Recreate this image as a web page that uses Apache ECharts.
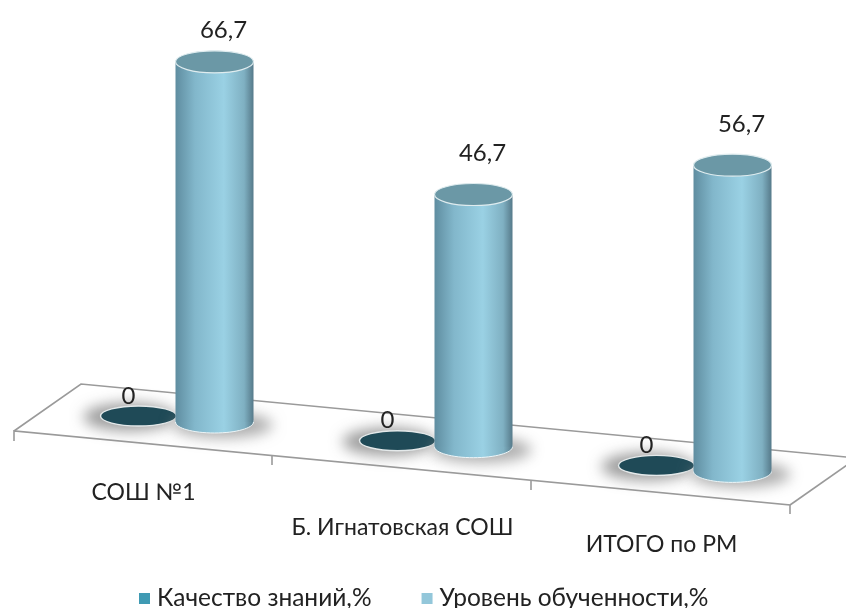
<!DOCTYPE html>
<html><head><meta charset="utf-8">
<style>html,body{margin:0;padding:0;background:#fff}#c{width:846px;height:608px}</style>
<script src="https://cdn.jsdelivr.net/npm/echarts@6/dist/echarts.min.js"></script>
</head><body><div id="c"></div>
<script>
var categories = ['СОШ №1', 'Б. Игнатовская СОШ', 'ИТОГО по РМ'];
var seriesNames = ['Качество знаний,%', 'Уровень обученности,%'];
var quality = [0, 0, 0];
var level = [66.7, 46.7, 56.7];

var FONT = 'Lato, "Open Sans", sans-serif';
var SLOPE = 24.7;               // floor drop per category (perspective)
var LABEL_PAD = [0, 35, 52];    // extra drop of the category labels
var VALUE_RAISE = [32, 41, 41]; // value label distance above the cylinder top
var OFF = 3000;                 // shape is parked off canvas so only its blurred shadow shows
var chart = echarts.init(document.getElementById('c'));

function fmt(v){ return String(v).replace('.', ','); }
function glow(cx, cy, rx, ry, alpha){
  return {type:'ellipse', shape:{cx:cx + OFF, cy:cy, rx:rx, ry:ry},
    style:{fill:'#000', shadowBlur:14, shadowOffsetX:-OFF, shadowColor:'rgba(140,140,140,' + alpha + ')'}};
}
function renderDisc(params, api){
  var i = api.value(0), v = api.value(1);
  var p = api.coord([i, v]);
  var cx = p[0] - 5, cy = p[1] - 6 + i * SLOPE, rx = 38, ry = 10;
  return {type:'group', children:[
    glow(cx - 9, cy + 1, rx + 8, ry + 4, 0.85),
    {type:'ellipse', shape:{cx:cx, cy:cy, rx:rx, ry:ry},
      style:{fill:'#1f4a57', stroke:'#e4e9ea', lineWidth:1.4}},
    {type:'text', style:{x:cx - 10, y:cy - 20, text:fmt(v), fill:'#222', font:'24px ' + FONT,
      align:'center', verticalAlign:'middle'}}
  ]};
}
function renderCylinder(params, api){
  var i = api.value(0), v = api.value(1);
  var base = api.coord([i, 0]), top = api.coord([i, v]);
  var cx = base[0] + 71, by = base[1] + i * SLOPE, ty = top[1] + i * SLOPE, rx = 39, ry = 11;
  var body = {type:'linear', x:0, y:0, x2:1, y2:0, colorStops:[
    {offset:0, color:'#5f8da0'}, {offset:0.25, color:'#82b7cb'}, {offset:0.62, color:'#9ad1e4'},
    {offset:0.88, color:'#7fb0c2'}, {offset:1, color:'#567a8a'}]};
  return {type:'group', children:[
    glow(cx + 8, by + 3, rx + 11, ry + 2, 0.7),
    {type:'ellipse', shape:{cx:cx, cy:by, rx:rx, ry:ry}, style:{fill:body, stroke:'#eef6f8', lineWidth:1}},
    {type:'rect', shape:{x:cx - rx, y:ty, width:rx * 2, height:by - ty}, style:{fill:body}},
    {type:'ellipse', shape:{cx:cx, cy:ty, rx:rx, ry:ry},
      style:{fill:'#6b98a6', stroke:'#dfecef', lineWidth:1.2}},
    {type:'text', style:{x:cx + 9, y:ty - VALUE_RAISE[i], text:fmt(v), fill:'#222', font:'24px ' + FONT,
      align:'center', verticalAlign:'middle'}}
  ]};
}
function line(points){
  return {type:'polyline', shape:{points:points}, style:{stroke:'#9a9a9a', lineWidth:1.6, fill:null}, silent:true};
}
var rich = {};
LABEL_PAD.forEach(function(p, i){
  rich['c' + i] = {fontFamily:FONT, fontSize:23, color:'#222', padding:[p, 0, 0, 0]};
});
chart.setOption({
  animation:false,
  backgroundColor:'#fff',
  grid:{left:14, width:777, top:17, height:405},
  xAxis:{type:'category', data:categories, axisLine:{show:false}, axisTick:{show:false},
    axisLabel:{interval:0, margin:59, hideOverlap:false,
      formatter:function(val, idx){ return '{c' + idx + '|' + val + '}'; }, rich:rich}},
  yAxis:{type:'value', min:0, max:75, show:false},
  legend:{data:seriesNames, left:134, top:581, icon:'rect', itemWidth:11, itemHeight:11, itemGap:50,
    textStyle:{fontFamily:FONT, fontSize:24.5, color:'#222', padding:[0,0,0,2]}},
  graphic:[
    line([[14,431],[81,384],[857,458]]),
    line([[14,441],[14,431],[790,505],[790,514]]),
    line([[790,505],[857,458]]),
    line([[272,456],[272,465]]),
    line([[531,480],[531,490]])
  ],
  series:[
    {name:seriesNames[0], type:'custom', coordinateSystem:'cartesian2d', z:3,
      itemStyle:{color:'#3f9ab3'}, renderItem:renderDisc,
      encode:{x:0, y:1}, data:quality.map(function(v, i){ return [i, v]; })},
    {name:seriesNames[1], type:'custom', coordinateSystem:'cartesian2d', z:4,
      itemStyle:{color:'#93c7da'}, renderItem:renderCylinder,
      encode:{x:0, y:1}, data:level.map(function(v, i){ return [i, v]; })}
  ]
});
</script></body></html>
